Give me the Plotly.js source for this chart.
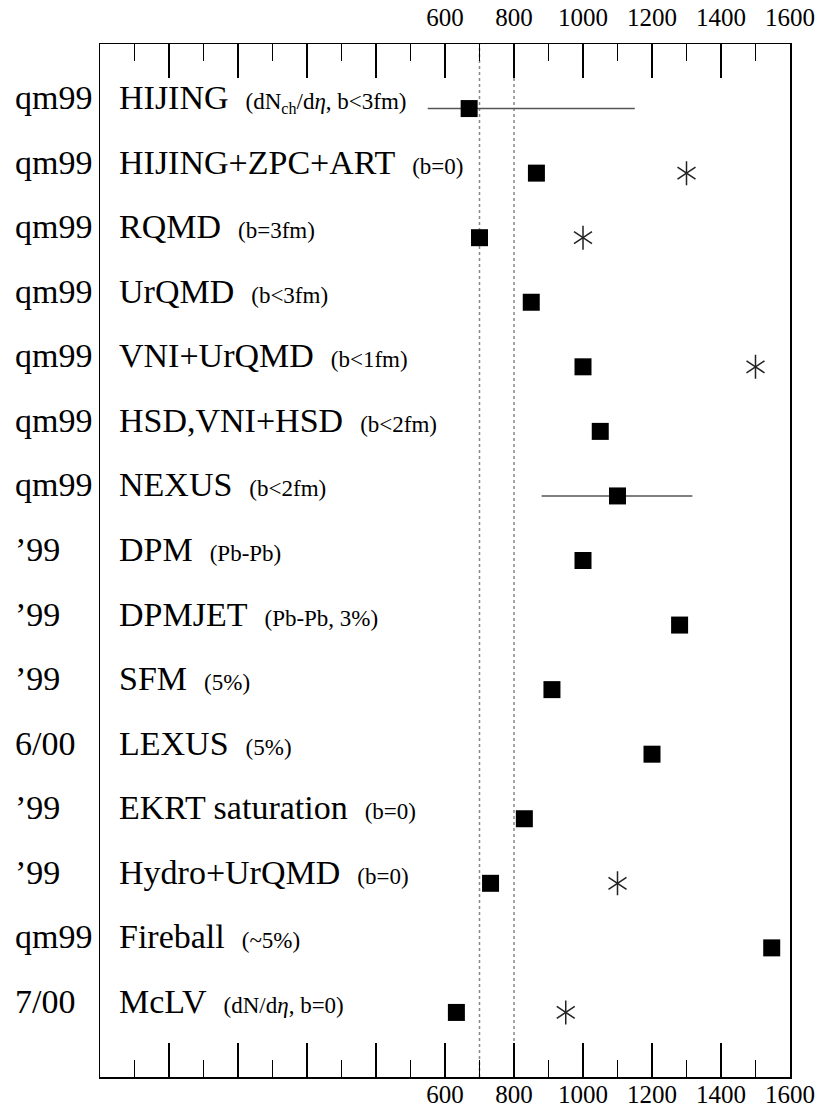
<!DOCTYPE html>
<html>
<head>
<meta charset="utf-8">
<script src="https://cdn.plot.ly/plotly-3.0.1.min.js"></script>
<style>html,body{margin:0;padding:0;background:#fff;}</style>
</head>
<body>
<div id="chart" style="width:832px;height:1117px;"></div>
<script>
// ---- data ----
const periods = ['qm99','qm99','qm99','qm99','qm99','qm99','qm99','\u201999','\u201999','\u201999','6/00','\u201999','\u201999','qm99','7/00'];
const models = ['HIJING','HIJING+ZPC+ART','RQMD','UrQMD','VNI+UrQMD','HSD,VNI+HSD','NEXUS','DPM','DPMJET','SFM','LEXUS','EKRT saturation','Hydro+UrQMD','Fireball','McLV'];
const notes = ['(dN<sub>ch</sub>/d<i>\u03b7</i>, b&lt;3fm)','(b=0)','(b=3fm)','(b&lt;3fm)','(b&lt;1fm)','(b&lt;2fm)','(b&lt;2fm)','(Pb-Pb)','(Pb-Pb, 3%)','(5%)','(5%)','(b=0)','(b=0)','(~5%)','(dN/d<i>\u03b7</i>, b=0)'];
const squareVals = [670, 865, 700, 850, 1000, 1050, 1100, 1000, 1280, 910, 1200, 830, 732, 1547, 633];
const starVals   = [null, 1300, 1000, null, 1500, null, null, null, null, null, null, null, 1100, null, 950];
const rangeLow   = [550, null, null, null, null, null, 880, null, null, null, null, null, null, null, null];
const rangeHigh  = [1150, null, null, null, null, null, 1317, null, null, null, null, null, null, null, null];
const refLines = [700, 800];
const majorTickVals = [-200, 0, 200, 400, 600, 800, 1000, 1200, 1400, 1600];
const labelTickVals = [600, 800, 1000, 1200, 1400, 1600];
const labelTickText = ['600', '800', '1000', '1200', '1400', '1600'];

// ---- derived ----
const rows = models.map((_, i) => i + 1);
const errPlus = squareVals.map((v, i) => rangeHigh[i] == null ? NaN : rangeHigh[i] - v);
const errMinus = squareVals.map((v, i) => rangeLow[i] == null ? NaN : v - rangeLow[i]);

const FONT = 'Liberation Serif';

const traces = [
  {
    x: squareVals, y: rows, type: 'scatter', mode: 'markers',
    marker: {symbol: 'square', size: 17, color: '#000'},
    error_x: {type: 'data', symmetric: false, array: errPlus, arrayminus: errMinus,
              color: '#555', thickness: 1.5, width: 0},
    hoverinfo: 'x', showlegend: false
  },
  {
    x: starVals, y: rows, type: 'scatter', mode: 'markers',
    marker: {symbol: 'y-up-open', size: 15, color: '#222', line: {width: 1.5, color: '#222'}},
    hoverinfo: 'x', showlegend: false
  },
  {
    x: starVals, y: rows, type: 'scatter', mode: 'markers',
    marker: {symbol: 'y-down-open', size: 15, color: '#222', line: {width: 1.5, color: '#222'}},
    hoverinfo: 'skip', showlegend: false
  },
  {
    x: squareVals, y: rows, type: 'scatter', mode: 'markers', xaxis: 'x2',
    marker: {opacity: 0, size: 1}, hoverinfo: 'skip', showlegend: false
  },
  {
    x: squareVals, y: rows, type: 'scatter', mode: 'markers', xaxis: 'x3',
    marker: {opacity: 0, size: 1}, hoverinfo: 'skip', showlegend: false
  }
];

const annotations = [];
rows.forEach((r, i) => {
  annotations.push({
    xref: 'paper', yref: 'y', x: -0.126, y: r, xanchor: 'left', yanchor: 'middle',
    text: periods[i], showarrow: false, yshift: 11,
    font: {family: FONT, size: 34, color: '#000'}
  });
  annotations.push({
    xref: 'paper', yref: 'y', x: 0.0246, y: r, xanchor: 'left', yanchor: 'middle',
    text: models[i] + '\u00a0\u00a0<span style="font-size:23px">' + notes[i] + '</span>',
    showarrow: false, yshift: 11,
    font: {family: FONT, size: 34, color: '#000'}
  });
});

const shapes = refLines.map(v => ({
  type: 'line', xref: 'x', yref: 'paper', x0: v, x1: v, y0: 0, y1: 1,
  line: {color: '#888', width: 1.5, dash: 'dot'}, layer: 'below'
}));

const labelAxis = {
  range: [-400, 1600], showgrid: false, zeroline: false,
  tickmode: 'array', tickvals: labelTickVals, ticktext: labelTickText,
  tickfont: {family: FONT, size: 25, color: '#000'},
  ticks: '', showline: false, overlaying: 'x', matches: 'x', anchor: 'y'
};

const layout = {
  width: 832, height: 1117,
  margin: {l: 100, r: 42, t: 44, b: 40},
  paper_bgcolor: '#fff', plot_bgcolor: '#fff',
  showlegend: false,
  xaxis: {
    range: [-400, 1600], showgrid: false, zeroline: false,
    tickmode: 'array', tickvals: majorTickVals, showticklabels: false,
    ticks: 'inside', ticklen: 34, tickwidth: 1.5, tickcolor: '#000',
    showline: true, linewidth: 1.5, linecolor: '#000', mirror: 'ticks',
    minor: {dtick: 100, tick0: 0, ticks: 'inside', ticklen: 17, tickwidth: 1.5, tickcolor: '#000', showgrid: false}
  },
  xaxis2: Object.assign({}, labelAxis, {side: 'top', ticklabelstandoff: 12}),
  xaxis3: Object.assign({}, labelAxis, {side: 'bottom', ticklabelstandoff: 0}),
  yaxis: {
    range: [16, 0], showgrid: false, zeroline: false, showticklabels: false,
    ticks: '', showline: true, linewidth: 1.5, linecolor: '#000', mirror: true
  },
  annotations: annotations,
  shapes: shapes
};

Plotly.newPlot('chart', traces, layout, {displayModeBar: false, staticPlot: true});
</script>
</body>
</html>
